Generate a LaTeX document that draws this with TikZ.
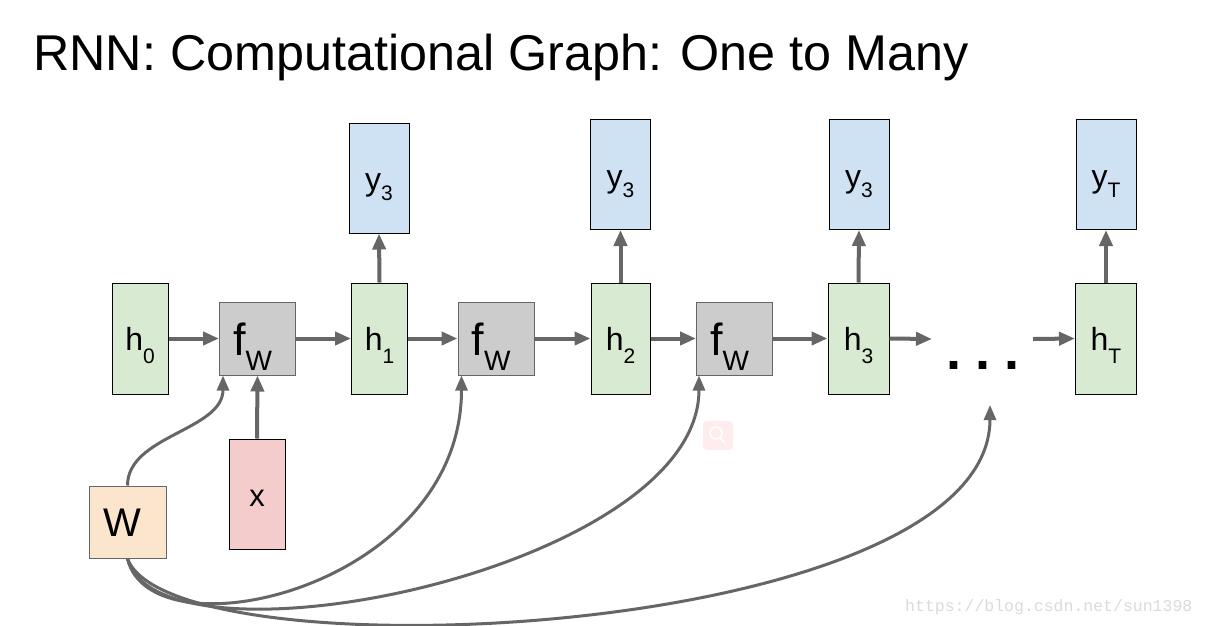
\documentclass[tikz,border=0pt]{standalone}
\usepackage{fontspec}
\setmainfont{Liberation Sans}
\newfontfamily\wmfont{Liberation Mono}
\usetikzlibrary{arrows.meta}
\definecolor{hgreen}{HTML}{D9EAD3}
\definecolor{yblue}{HTML}{CFE2F3}
\definecolor{fgray}{HTML}{CCCCCC}
\definecolor{xpink}{HTML}{F4CCCC}
\definecolor{worange}{HTML}{FCE5CD}
\definecolor{arr}{HTML}{666666}
\newcommand{\sublbl}[5]{\fontsize{#3}{#3}\selectfont #1\raisebox{-#5pt}{\fontsize{#4}{#4}\selectfont #2}}
\tikzset{
  box/.style={draw=black, line width=1pt, inner sep=0pt, anchor=center},
  hbox/.style={box, fill=hgreen, minimum height=111pt, text height=23pt, text depth=0pt},
  ybox/.style={box, fill=yblue, minimum width=60pt, minimum height=110pt, text height=25pt, text depth=0pt},
  fbox/.style={box, draw=arr, fill=fgray, minimum width=76pt, minimum height=73pt, text height=33pt, text depth=0pt},
  flow/.style={draw=arr, line width=4pt, -{Triangle[length=16pt,width=13pt]}},
  wlink/.style={draw=arr, line width=3pt, -{Triangle[length=15pt,width=12pt]}},
}
\begin{document}
\begin{tikzpicture}[x=1pt,y=-1pt]
\useasboundingbox[fill=white] (0,0) rectangle (1207,625);
% title
\node[anchor=base west, inner sep=0pt, font=\fontsize{50.3}{50.3}\selectfont] (title) at (33,70) {RNN: Computational Graph: One to Many};
% hidden states
\node[hbox, minimum width=56pt] (h0) at (140,338.5) {\sublbl{h}{0}{32}{21}{13}};
\node[fbox] (f1) at (257.5,338.5) {\hspace*{-10pt}\sublbl{f}{W}{45}{28}{15}};
\node[hbox, minimum width=56pt] (h1) at (379.5,338.5) {\sublbl{h}{1}{32}{21}{13}};
\node[fbox] (f2) at (496,338.5) {\hspace*{-10pt}\sublbl{f}{W}{45}{28}{15}};
\node[hbox, minimum width=59pt] (h2) at (620.5,338.5) {\sublbl{h}{2}{32}{21}{13}};
\node[fbox] (f3) at (734.5,338.5) {\hspace*{-10pt}\sublbl{f}{W}{45}{28}{15}};
\node[hbox, minimum width=61pt] (h3) at (858.5,338.5) {\sublbl{h}{3}{32}{21}{13}};
\node[hbox, minimum width=61pt] (hT) at (1106,338.5) {\sublbl{h}{T}{32}{21}{13}};
% outputs
\node[ybox] (y1) at (379,178) {\sublbl{y}{3}{32}{21}{10}};
\node[ybox] (y2) at (620.5,174.5) {\sublbl{y}{3}{32}{21}{10}};
\node[ybox] (y3) at (859,174.5) {\sublbl{y}{3}{32}{21}{10}};
\node[ybox] (yT) at (1106,174.5) {\sublbl{y}{T}{32}{21}{10}};
% input and weights
\node[box, fill=xpink, minimum width=56pt, minimum height=110pt, text height=24pt, text depth=0pt, font=\fontsize{31}{31}\selectfont] (x) at (257,494) {x};
\node[box, draw=arr, fill=worange, minimum width=77pt, minimum height=72pt, text height=29pt, text depth=0pt, font=\fontsize{40}{40}\selectfont] (W) at (127.5,522) {\hspace*{-10pt}W};
% dots
\node[anchor=base, inner sep=0pt, font=\fontsize{54}{54}\selectfont\bfseries] (dots) at (983,369) {.\hspace{14pt}.\hspace{14pt}.};
\coordinate (d1) at (932,339);
\coordinate (d2) at (1033,339);
\coordinate (dt) at (990,405);
% horizontal flow
\draw[flow] (h0.east) -- (f1.west);
\draw[flow] (f1.east) -- (h1.west);
\draw[flow] (h1.east) -- (f2.west);
\draw[flow] (f2.east) -- (h2.west);
\draw[flow] (h2.east) -- (f3.west);
\draw[flow] (f3.east) -- (h3.west);
\draw[flow] (h3.east) -- (d1);
\draw[flow] (d2) -- (hT.west);
% outputs
\draw[flow] (h1.north) -- (y1.south);
\draw[flow] (h2.north) -- (y2.south);
\draw[flow] (h3.north) -- (y3.south);
\draw[flow] (hT.north) -- (yT.south);
% input
\draw[flow] (x.north) -- (f1.south);
% weight links
\draw[wlink] (W.north) .. controls +(0,-50) and +(0,55) .. ([xshift=4pt]f1.south west);
\draw[wlink] (W.south) .. controls +(23,100) and +(0,213) .. ([xshift=4pt]f2.south west);
\draw[wlink] (W.south) .. controls +(30,120) and +(0,195) .. ([xshift=3pt]f3.south west);
\draw[wlink] (W.south) .. controls +(43,120) and +(0,235) .. (dt);
% faint icon
\fill[red!7, rounded corners=4pt] (703,421) rectangle (733,450);
\draw[white, line width=1.5pt] (716,433) circle (6);
\draw[white, line width=1.5pt] (720,438) -- (725,443);
% watermark
\node[anchor=base west, inner sep=0pt, text=black!14, font=\wmfont\fontsize{16.5}{16.5}\selectfont] (wm) at (905,611) {https://blog.csdn.net/sun1398};
\end{tikzpicture}
\end{document}
